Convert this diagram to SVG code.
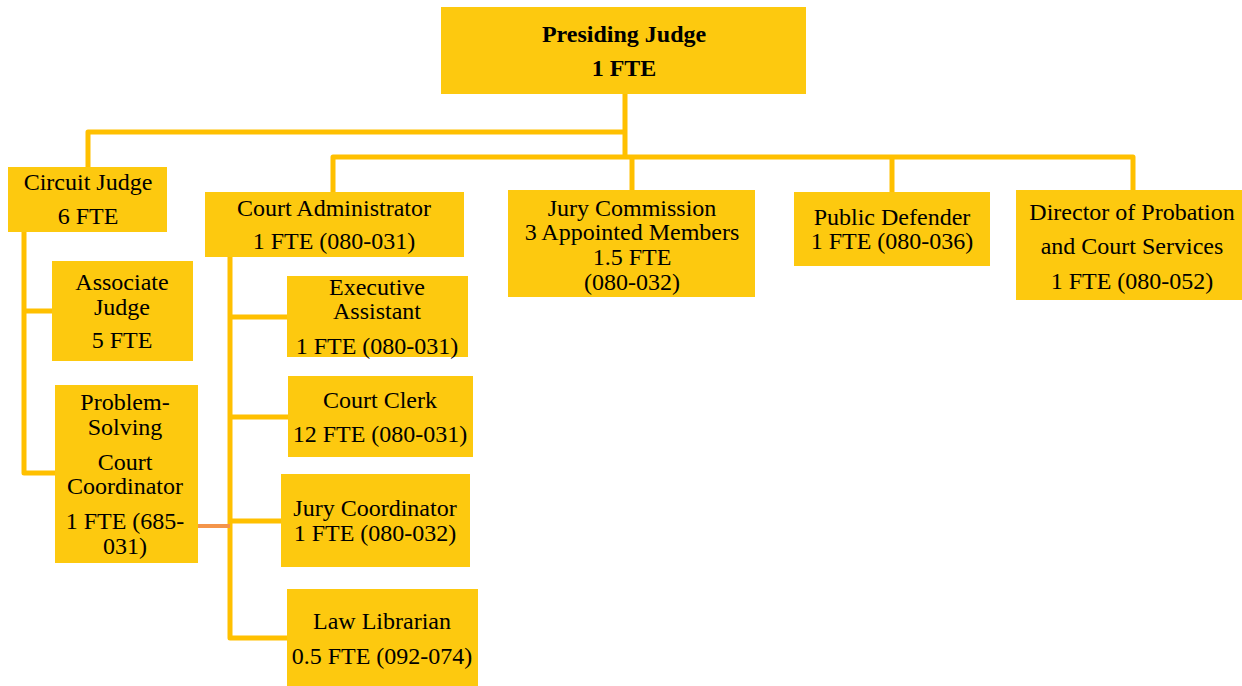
<svg xmlns="http://www.w3.org/2000/svg" width="1242" height="686" viewBox="0 0 1242 686">
<style>
.box{fill:#FDC90F}
.ln{stroke:#FFC000;stroke-width:5;fill:none;stroke-linejoin:round}
text{font-family:'Liberation Serif','Times New Roman','DejaVu Serif',serif;font-size:24px;fill:#000;text-anchor:middle}
.b{font-weight:bold;font-size:24px}
</style>
<rect width="1242" height="686" fill="#fff"/>
<g id="connectors">
<path class="ln" d="M625 94V156M625 132H88V168M333 192V157H1133V190M632 157V190M892 157V192"/>
<path class="ln" d="M24 231V473H55M24 311H52"/>
<path class="ln" d="M230 257V638H287M230 317H287M230 417H288M230 521H281"/>
<path d="M193 526H230" stroke="#F4954B" stroke-width="4"/>
</g>
<g id="presiding"><rect class="box" x="441" y="7" width="365" height="87"/><text class="b" x="624" y="42">Presiding Judge</text><text class="b" x="624" y="76">1 FTE</text></g>
<g id="circuit"><rect class="box" x="8" y="167" width="159" height="65"/><text x="88" y="190">Circuit Judge</text><text x="88" y="224">6 FTE</text></g>
<g id="courtadmin"><rect class="box" x="205" y="192" width="259" height="65"/><text x="334" y="216">Court Administrator</text><text x="334" y="249">1 FTE (080-031)</text></g>
<g id="associate"><rect class="box" x="52" y="261" width="141" height="100"/><text x="122" y="290">Associate</text><text x="122" y="315">Judge</text><text x="122" y="348">5 FTE</text></g>
<g id="problem"><rect class="box" x="55" y="385" width="143" height="178"/><text x="125" y="410">Problem-</text><text x="125" y="435">Solving</text><text x="125" y="470">Court</text><text x="125" y="494">Coordinator</text><text x="125" y="529">1 FTE (685-</text><text x="125" y="554">031)</text></g>
<g id="exec"><rect class="box" x="287" y="276" width="181" height="81"/><text x="377" y="295">Executive</text><text x="377" y="319">Assistant</text><text x="377" y="354">1 FTE (080-031)</text></g>
<g id="clerk"><rect class="box" x="288" y="376" width="185" height="81"/><text x="380" y="408">Court Clerk</text><text x="380" y="442">12 FTE (080-031)</text></g>
<g id="jurycoord"><rect class="box" x="281" y="474" width="189" height="93"/><text x="375" y="516">Jury Coordinator</text><text x="375" y="541">1 FTE (080-032)</text></g>
<g id="librarian"><rect class="box" x="287" y="589" width="191" height="97"/><text x="382" y="629">Law Librarian</text><text x="382" y="664">0.5 FTE (092-074)</text></g>
<g id="jurycomm"><rect class="box" x="508" y="190" width="247" height="107"/><text x="632" y="216">Jury Commission</text><text x="632" y="240">3 Appointed Members</text><text x="632" y="265">1.5 FTE</text><text x="632" y="290">(080-032)</text></g>
<g id="defender"><rect class="box" x="794" y="192" width="196" height="74"/><text x="892" y="225">Public Defender</text><text x="892" y="249">1 FTE (080-036)</text></g>
<g id="probation"><rect class="box" x="1016" y="190" width="226" height="110"/><text x="1132" y="220">Director of Probation</text><text x="1132" y="254">and Court Services</text><text x="1132" y="289">1 FTE (080-052)</text></g>
</svg>
